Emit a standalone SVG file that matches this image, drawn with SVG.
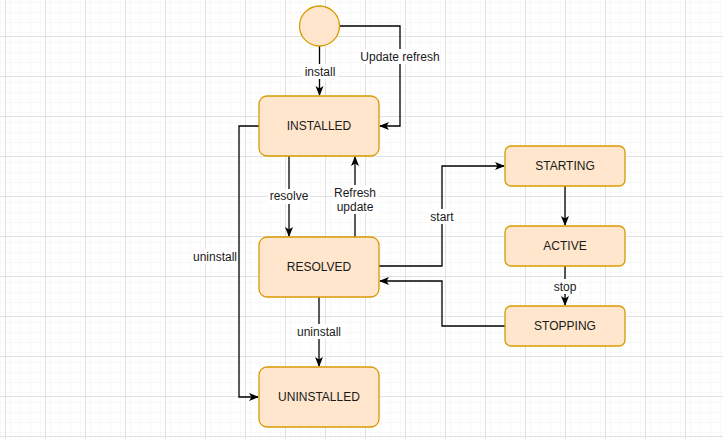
<svg xmlns="http://www.w3.org/2000/svg" width="723" height="439" viewBox="0 0 723 439">
<defs>
<pattern id="minor" x="5" y="-4" width="10" height="10" patternUnits="userSpaceOnUse">
<path d="M0,0 H10 M0,0 V10" fill="none" stroke="#f2f2f2" stroke-width="1"/>
</pattern>
<pattern id="major" x="5" y="-4" width="40" height="40" patternUnits="userSpaceOnUse">
<rect width="40" height="40" fill="url(#minor)"/>
<path d="M0,0.5 H40 M0.5,0 V40" fill="none" stroke="#e1e1e1" stroke-width="1"/>
</pattern>
<marker id="arr" viewBox="0 0 10 10" refX="9" refY="5" markerWidth="10" markerHeight="10" markerUnits="userSpaceOnUse" orient="auto">
<path d="M0,1 L10,5 L0,9 L2.5,5 Z" fill="#000"/>
</marker>
<style>
.node{fill:#ffe6cc;stroke:#d79b00;stroke-width:1.3}
.t{font-family:"Liberation Sans",Arial,sans-serif;font-size:12px;fill:#1a1a1a;text-anchor:middle;dominant-baseline:central}
.e{fill:none;stroke:#000;stroke-width:1.3;marker-end:url(#arr)}
.lb{fill:#fff}
</style>
</defs>
<rect width="723" height="439" fill="#fff"/>
<rect width="723" height="439" fill="url(#major)"/>

<g id="connectors">
<path class="e" d="M319.5,46 V95"/>
<path class="e" d="M340,26 H400 V126 H380"/>
<path class="e" d="M289,156 V236"/>
<path class="e" d="M355,237 V157"/>
<path class="e" d="M259,126 H239 V397 H258"/>
<path class="e" d="M319,297 V366"/>
<path class="e" d="M379,266 H442 V166 H504"/>
<path class="e" d="M565,186 V225"/>
<path class="e" d="M565,266 V305"/>
<path class="e" d="M505,326 H442 V281 H380"/>
<g id="labels">
<rect class="lb" x="302" y="64" width="36" height="15"/>
<text class="t" x="320" y="72">install</text>
<rect class="lb" x="360" y="49" width="80" height="15"/>
<text class="t" x="400" y="57">Update refresh</text>
<rect class="lb" x="268" y="189" width="42" height="15"/>
<text class="t" x="289" y="196">resolve</text>
<rect class="lb" x="332" y="185" width="46" height="29"/>
<text class="t" x="355" y="193">Refresh</text>
<text class="t" x="355" y="207">update</text>
<rect class="lb" x="192" y="249" width="46" height="15"/>
<text class="t" x="215" y="257">uninstall</text>
<rect class="lb" x="296" y="324" width="46" height="15"/>
<text class="t" x="319" y="332">uninstall</text>
<rect class="lb" x="429" y="209" width="26" height="15"/>
<text class="t" x="442" y="217">start</text>
<rect class="lb" x="553" y="279" width="24" height="15"/>
<text class="t" x="565" y="287">stop</text>
</g>
</g>

<g id="start">
<circle class="node" cx="319.5" cy="26" r="20"/>
</g>
<g id="installed">
<rect class="node" x="259" y="96" width="120" height="60" rx="8"/>
<text class="t" x="319" y="126">INSTALLED</text>
</g>
<g id="resolved">
<rect class="node" x="259" y="237" width="120" height="60" rx="8"/>
<text class="t" x="319" y="267">RESOLVED</text>
</g>
<g id="uninstalled">
<rect class="node" x="259" y="367" width="120" height="60" rx="8"/>
<text class="t" x="319" y="397">UNINSTALLED</text>
</g>
<g id="starting">
<rect class="node" x="505" y="146" width="120" height="40" rx="6"/>
<text class="t" x="565" y="166">STARTING</text>
</g>
<g id="active">
<rect class="node" x="505" y="226" width="120" height="40" rx="6"/>
<text class="t" x="565" y="246">ACTIVE</text>
</g>
<g id="stopping">
<rect class="node" x="505" y="306" width="120" height="40" rx="6"/>
<text class="t" x="565" y="326">STOPPING</text>
</g>
</svg>
